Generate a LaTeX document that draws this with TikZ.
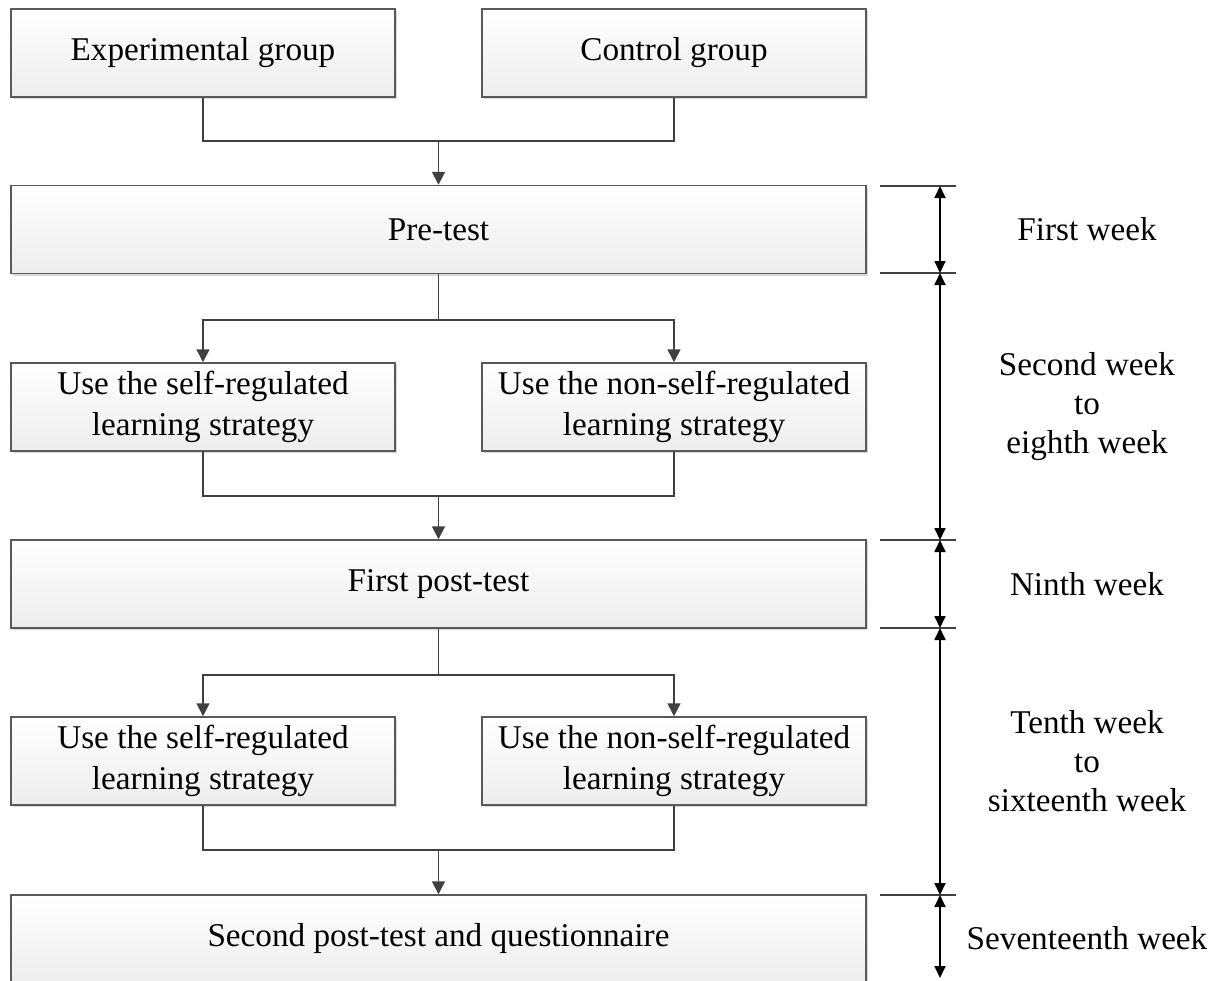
\documentclass[tikz,border=0pt]{standalone}
\usepackage{fontspec}
\setmainfont{Liberation Serif}
\usetikzlibrary{arrows.meta,shadows}
\begin{document}
\begin{tikzpicture}[x=0.5pt,y=-0.5pt,
  font=\fontsize{16.6}{20.5}\selectfont,
  box/.style={rectangle, draw=black!65, line width=0.75pt, top color=white,
    bottom color=black!7, align=center, inner sep=0pt,
    drop shadow={shadow xshift=1.2pt, shadow yshift=-1.2pt, opacity=0.15, fill=black}},
  small/.style={box, minimum width=192pt, minimum height=44pt},
  wide/.style={box, minimum width=427.5pt, minimum height=44pt},
  link/.style={draw=black!75, line width=0.85pt},
  flow/.style={link, -{Triangle[length=6.5pt,width=6.5pt]}},
  tick/.style={draw=black!75, line width=0.7pt},
  span/.style={draw=black, line width=0.9pt, {Triangle[length=6pt,width=5.5pt]}-{Triangle[length=6pt,width=5.5pt]}},
  week/.style={align=center}]
\useasboundingbox (0,0) rectangle (1217,981);

% flow boxes
\node[small] (exp)   at (203,53)    {Experimental group};
\node[small] (ctl)   at (674,53)    {Control group};
\node[wide]  (pre)   at (438.5,229.5) {Pre-test};
\node[small] (srlA)  at (203,407)   {Use the self-regulated\\learning strategy};
\node[small] (nsrlA) at (674,407)   {Use the non-self-regulated\\learning strategy};
\node[wide]  (postA) at (438.5,584) {First post-test};
\node[small] (srlB)  at (203,761)   {Use the self-regulated\\learning strategy};
\node[small] (nsrlB) at (674,761)   {Use the non-self-regulated\\learning strategy};
\node[wide]  (postB) at (438.5,939) {Second post-test and questionnaire};

% joins and branches
\coordinate (j1) at (438.5,141);
\coordinate (b1) at (438.5,320);
\coordinate (j2) at (438.5,496);
\coordinate (b2) at (438.5,675);
\coordinate (j3) at (438.5,850);

\draw[link] (exp.south) |- (j1) -| (ctl.south);
\draw[flow] (j1) -- (pre.north);
\draw[link] (pre.south) -- (b1);
\draw[flow] (b1) -| (srlA.north);
\draw[flow] (b1) -| (nsrlA.north);
\draw[link] (srlA.south) |- (j2) -| (nsrlA.south);
\draw[flow] (j2) -- (postA.north);
\draw[link] (postA.south) -- (b2);
\draw[flow] (b2) -| (srlB.north);
\draw[flow] (b2) -| (nsrlB.north);
\draw[link] (srlB.south) |- (j3) -| (nsrlB.south);
\draw[flow] (j3) -- (postB.north);

% time scale ticks
\foreach \n/\y in {a/186,b/273,c/540,d/628,e/895}{
  \coordinate (tl\n) at (880,\y);
  \coordinate (tr\n) at (956,\y);
  \coordinate (t\n) at (940,\y);
  \draw[tick] (tl\n) -- (tr\n);
}
\coordinate (tf) at (940,978);

\draw[span] (ta) -- (tb);
\draw[span] (tb) -- (tc);
\draw[span] (tc) -- (td);
\draw[span] (td) -- (te);
\draw[span] (te) -- (tf);

% week labels
\node[week] (w1) at (1087,229.5) {First week};
\node[week, font=\fontsize{16.6}{19.5}\selectfont] (w2) at (1087,406.5) {Second week\\to\\eighth week};
\node[week] (w3) at (1087,584) {Ninth week};
\node[week, font=\fontsize{16.6}{19.5}\selectfont] (w4) at (1087,761.5) {Tenth week\\to\\sixteenth week};
\node[week] (w5) at (1087,938) {Seventeenth week};
\end{tikzpicture}
\end{document}
